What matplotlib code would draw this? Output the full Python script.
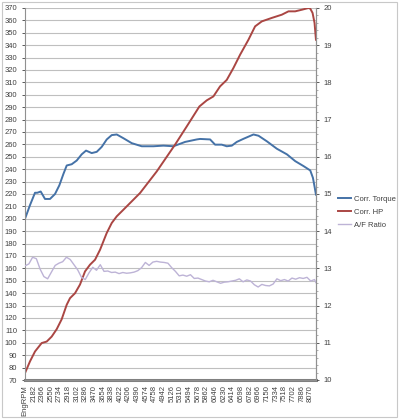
import numpy as np
import matplotlib
matplotlib.use("Agg")
import matplotlib.pyplot as plt
from matplotlib.patches import Rectangle

plt.rcParams["font.family"] = ["Liberation Sans", "DejaVu Sans"]

# x tick labels (category axis, every 184 rpm)
tick_labels = ["EngRPM", "2182", "2366", "2550", "2734", "2918", "3102", "3286",
               "3470", "3654", "3838", "4022", "4206", "4390", "4574", "4758",
               "4942", "5126", "5310", "5494", "5678", "5862", "6046", "6230",
               "6414", "6598", "6782", "6966", "7150", "7334", "7518", "7702",
               "7886", "8070"]

torque_rpm = [1998, 2104, 2211, 2260, 2332, 2424, 2530, 2637, 2729, 2814, 2886,
              2992, 3099, 3205, 3297, 3418, 3525, 3631, 3738, 3844, 3951, 4092,
              4270, 4483, 4731, 4944, 5157, 5406, 5654, 5725, 5938, 6044, 6186,
              6293, 6400, 6506, 6648, 6861, 6968, 7146, 7359, 7572, 7750, 7927,
              8070, 8127, 8161, 8191]
torque = [200, 211, 221, 221, 222, 216, 216, 220, 227, 236, 243,
          244, 247, 252, 255, 253, 254, 258, 264, 267.5, 268, 265,
          261, 258.5, 258.5, 259, 258.5, 262, 264, 264.4, 264, 259.8, 259.8,
          258.5, 259, 262, 264.5, 268, 267, 262.5, 256.5, 252, 246.5, 242.5,
          239, 233, 226, 219.5]

hp_rpm = [1998, 2104, 2211, 2353, 2460, 2566, 2673, 2779, 2886, 2956, 3063,
          3169, 3276, 3382, 3489, 3595, 3737, 3844, 3951, 4092, 4447, 4802,
          5192, 5441, 5710, 5866, 6008, 6150, 6292, 6434, 6576, 6754, 6896,
          7038, 7251, 7464, 7606, 7748, 7890, 8033, 8070, 8119, 8161, 8191]
hp = [75.6, 85, 93, 99.8, 101, 105, 111, 119, 130.7, 136, 140,
      147, 157.6, 163, 167, 175, 188.5, 196.6, 202, 207.3, 220.8, 238.2,
      259.8, 274.5, 290.6, 295.5, 298.7, 306.8, 312, 321.6, 332.3, 344.4, 355.2,
      359.2, 362, 364.6, 367.3, 367.3, 368.6, 370, 369.5, 366, 358, 344.4]

af_rpm = [2000, 2080, 2160, 2240, 2320, 2400, 2480, 2560, 2640, 2720, 2800,
          2880, 2960, 3040, 3120, 3200, 3280, 3360, 3440, 3520, 3600, 3680,
          3760, 3840, 3920, 4000, 4080, 4160, 4240, 4320, 4400, 4480, 4560,
          4640, 4720, 4800, 4880, 4960, 5040, 5120, 5200, 5280, 5360, 5440,
          5520, 5600, 5680, 5760, 5840, 5920, 6000, 6080, 6160, 6240, 6320,
          6400, 6480, 6560, 6640, 6720, 6800, 6880, 6960, 7040, 7120, 7200,
          7280, 7360, 7440, 7520, 7600, 7680, 7760, 7840, 7920, 8000, 8080,
          8160, 8190]
af_ratio = [13.07, 13.12, 13.30, 13.26, 12.98, 12.78, 12.72, 12.90, 13.08, 13.14, 13.18,
            13.30, 13.24, 13.10, 12.96, 12.76, 12.70, 12.88, 13.03, 12.95, 13.10, 12.92,
            12.93, 12.89, 12.90, 12.86, 12.89, 12.87, 12.88, 12.90, 12.94, 13.02, 13.16,
            13.08, 13.17, 13.19, 13.17, 13.16, 13.14, 13.02, 12.92, 12.80, 12.82, 12.79,
            12.83, 12.73, 12.74, 12.70, 12.66, 12.64, 12.68, 12.64, 12.60, 12.63, 12.64,
            12.66, 12.68, 12.72, 12.64, 12.69, 12.66, 12.56, 12.50, 12.57, 12.54, 12.53,
            12.58, 12.72, 12.67, 12.70, 12.66, 12.74, 12.71, 12.75, 12.73, 12.76, 12.66,
            12.70, 12.62]

fig = plt.figure(figsize=(3.99, 4.19), dpi=100)
fig.patches.append(Rectangle((0.004, 0.004), 0.992, 0.992, transform=fig.transFigure,
                             fill=False, edgecolor="#c8c8c8", lw=0.8))
ax = fig.add_axes([25 / 399, 1 - 380 / 419, 291 / 399, 372 / 419])
ax2 = ax.twinx()

ax.set_ylim(70, 370)
ax.set_yticks(np.arange(70, 371, 10))
ax.grid(axis="y", color="#bfbfbf", lw=0.8)
ax.set_axisbelow(True)
ax2.set_ylim(10, 20)
ax2.set_yticks(np.arange(10, 21, 1))
ax2.set_yticks(np.arange(10, 20.01, 0.2), minor=True)

x0, step = 1998, 184
ticks = [x0 + step * i for i in range(len(tick_labels))]
ax.set_xlim(x0, 8192)
ax.set_xticks(ticks)
ax.set_xticklabels(tick_labels, rotation=90, fontsize=5, color="#404040")

l1, = ax.plot(torque_rpm, torque, color="#4572A7", lw=1.4, label="Corr. Torque")
l2, = ax.plot(hp_rpm, hp, color="#AA4643", lw=1.4, label="Corr. HP")
l3, = ax2.plot(af_rpm, af_ratio, color="#BDB3D6", lw=1.0, label="A/F Ratio")

for a in (ax, ax2):
    for s in a.spines.values():
        s.set_color("#909090")
        s.set_linewidth(0.8)
    a.spines["top"].set_visible(False)
    a.tick_params(labelsize=5.5, colors="#404040", length=2, width=0.6)
    a.tick_params(which="minor", length=1.5, width=0.5, colors="#909090")
ax.spines["bottom"].set_linewidth(2.2)
ax.spines["bottom"].set_color("#808080")
ax2.spines["left"].set_visible(False)
ax.tick_params(axis="x", length=0)

fig.legend(handles=[l1, l2, l3], loc="upper left", bbox_to_anchor=(333 / 399, 1 - 190 / 419),
           frameon=False, fontsize=5.5, handlelength=1.6, labelspacing=0.75,
           handletextpad=0.4, labelcolor="#404040", borderpad=0.2)

fig.savefig("out.png", dpi=100)
